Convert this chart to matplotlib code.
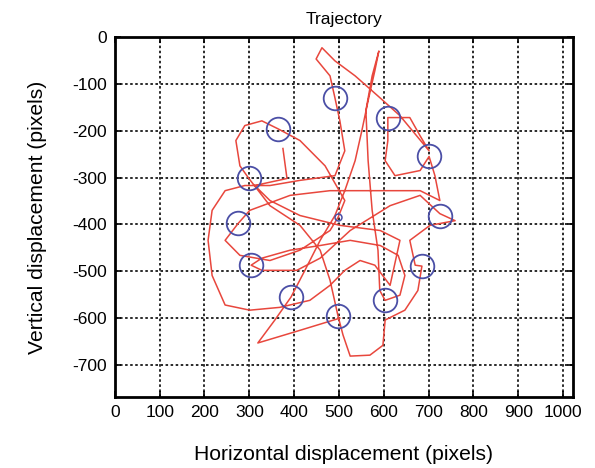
import matplotlib
matplotlib.use("Agg")
import matplotlib.pyplot as plt

# ── data ─────────────────────────────────────────────────────────────────────
# red trajectory (pixels)
traj_x = [502, 413, 319, 357, 393, 424, 458, 491, 513, 536, 551, 565, 580, 589,
          574, 560, 565, 574, 587, 591, 603, 636, 647, 632, 592, 525, 458, 391,
          328, 304, 328, 406, 458, 525, 614, 681, 725, 759, 703, 658, 670, 685,
          676, 647, 603, 598, 569, 525, 509, 498, 480, 458, 413, 346, 299, 279,
          270, 290, 328, 364, 413, 469, 513, 498, 480, 413, 346, 279, 246, 275,
          301, 391, 480, 592, 681, 725, 714, 701, 681, 625, 603, 609, 609, 658,
          681, 701, 636, 587, 536, 491, 462, 449, 480, 491, 502, 513, 491, 413,
          346, 290, 246, 217, 208, 217, 246, 301, 368, 435, 480, 513, 547, 580,
          614, 636, 592, 502, 413, 346, 312, 384, 375]
traj_y = [-600, -626, -653, -604, -555, -498, -434, -381, -328, -264, -200, -136,
          -72, -30, -83, -157, -264, -370, -455, -541, -562, -551, -509, -466,
          -445, -434, -445, -455, -472, -487, -498, -498, -472, -413, -360, -338,
          -377, -392, -402, -434, -487, -489, -541, -583, -604, -658, -679, -681,
          -636, -596, -519, -455, -402, -360, -302, -275, -221, -189, -179, -196,
          -221, -275, -349, -385, -413, -455, -477, -466, -434, -398, -370, -338,
          -328, -328, -328, -349, -296, -255, -285, -296, -264, -221, -172, -172,
          -211, -243, -168, -126, -83, -51, -23, -47, -83, -130, -179, -243,
          -296, -306, -317, -317, -328, -370, -434, -509, -572, -583, -577, -562,
          -530, -498, -477, -487, -530, -434, -413, -402, -381, -349, -317, -302,
          -238]

# blue target circles
circle_x = [491, 364, 609, 701, 299, 275, 725, 304, 685, 393, 498, 603]
circle_y = [-130, -196, -172, -255, -302, -398, -381, -487, -489, -555, -596, -562]
small_x = [498]
small_y = [-385]

x_ticks = list(range(0, 1001, 100))
y_ticks = list(range(0, -701, -100))

# ── plot ─────────────────────────────────────────────────────────────────────
plt.rcParams["font.family"] = ["Liberation Sans", "DejaVu Sans"]
plt.rcParams["axes.unicode_minus"] = False

fig = plt.figure(figsize=(5.95, 4.68), dpi=100)
ax = fig.add_axes([0.193, 0.152, 0.770, 0.769])

ax.plot(traj_x, traj_y, color="#e8473d", lw=1.1, zorder=3)
ax.plot(circle_x, circle_y, "o", ms=17, mfc="none", mec="#4b4fa6", mew=1.3, zorder=4)
ax.plot(small_x, small_y, "o", ms=5, mfc="none", mec="#4b4fa6", mew=1.1, zorder=4)

ax.set_xlim(0, 1022)
ax.set_ylim(-768, 0)
ax.set_xticks(x_ticks)
ax.set_yticks(y_ticks)
ax.grid(True, color="#2a2a2a", linestyle=(0, (1.3, 1.3)), lw=1.4, zorder=1)
ax.tick_params(direction="in", length=4, width=1.2, labelsize=12.5,
               top=True, right=True, pad=6)
for s in ax.spines.values():
    s.set_linewidth(2.0)

ax.set_xlabel("Horizontal displacement (pixels)", fontsize=15.2, labelpad=18)
ax.set_ylabel("Vertical displacement (pixels)", fontsize=15.2, labelpad=18)
ax.set_title("Trajectory", fontsize=12.5, pad=9)

plt.savefig("out.png", dpi=100)
plt.close()
